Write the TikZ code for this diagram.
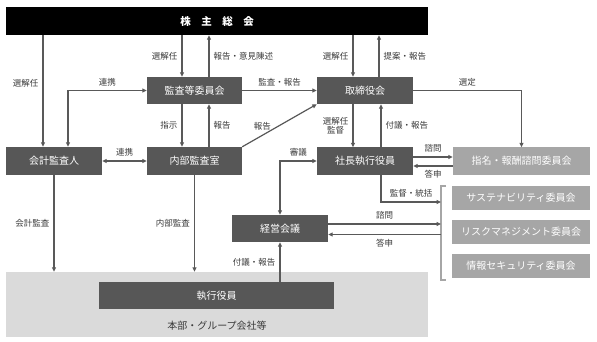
\documentclass[tikz,border=0pt]{standalone}
\usepackage{fontspec}
\setmainfont{Noto Sans CJK JP}
\usetikzlibrary{arrows.meta,positioning}

\definecolor{boxdark}{HTML}{575757}
\definecolor{boxlight}{HTML}{A6A6A6}
\definecolor{areagray}{HTML}{DADADA}
\definecolor{linegray}{HTML}{595959}
\definecolor{txtgray}{HTML}{3A3A3A}

\begin{document}
\begin{tikzpicture}[x=1pt, y=-1pt,
darkbox/.style={rectangle, fill=boxdark, text=white, minimum width=96pt, minimum height=27pt, inner sep=0pt, font=\fontsize{10}{12}\selectfont},
lightbox/.style={rectangle, fill=boxlight, text=white, minimum width=138pt, minimum height=24pt, inner sep=0pt, font=\fontsize{10}{12}\selectfont},
lbl/.style={font=\fontsize{8.5}{9.5}\selectfont, text=txtgray, inner sep=4pt, align=center},
arrow/.style={-{Triangle[length=4.5pt,width=4pt]}, line width=1.2pt, draw=linegray},
twoway/.style={{Triangle[length=4.5pt,width=4pt]}-{Triangle[length=4.5pt,width=4pt]}, line width=1.2pt, draw=linegray},
bracket/.style={line width=1.2pt, draw=boxlight}
]
\useasboundingbox (0,0) rectangle (597,342);

% Top bar
\node[rectangle, fill=black, text=white, minimum width=422pt, minimum height=28pt, font=\fontsize{10.5}{12}\selectfont\bfseries] (sh) at (217,21) {株\hspace{1em}主\hspace{1em}総\hspace{1em}会};

% Board and committees
\node[darkbox, minimum width=95pt] (kansa) at (194.5,90.5) {監査等委員会};
\node[darkbox] (tori) at (365,90.5) {取締役会};
\node[darkbox, minimum height=28pt] (kaikei) at (54,161) {会計監査人};
\node[darkbox, minimum width=95pt, minimum height=28pt] (naibu) at (194.5,161) {内部監査室};
\node[darkbox] (shacho) at (365,161) {社長執行役員};
\node[lightbox, minimum width=137pt, minimum height=27pt] (shimei) at (521.5,161) {指名・報酬諮問委員会};
\node[lightbox] (sus) at (521,198) {サステナビリティ委員会};
\node[lightbox] (risk) at (521,232) {リスクマネジメント委員会};
\node[lightbox] (joho) at (521,266) {情報セキュリティ委員会};
\node[darkbox] (keiei) at (280,228.5) {経営会議};

% Business units
\node[rectangle, fill=areagray, minimum width=422pt, minimum height=65pt] (area) at (217,304.5) {};
\node[darkbox, minimum width=235pt] (shikko) at (216.5,295.5) {執行役員};
\node[font=\fontsize{10}{12}\selectfont, text=txtgray] (areatxt) at (217,326) {本部・グループ会社等};

% Bracket
\coordinate (brtop) at (441,186);
\coordinate (brbot) at (441,280);
\coordinate (brsup) at (441,202);
\draw[bracket] ([xshift=5pt]brtop) -- (brtop) -- (brbot) -- ([xshift=5pt]brbot);

% Connections
\draw[arrow] ([xshift=-11pt]kaikei.north |- sh.south) -- node[lbl, left, pos=0.43] (l1) {選解任} ([xshift=-11pt]kaikei.north);
\draw[twoway] ([xshift=14pt]kaikei.north) |- node[lbl, above, pos=0.75] (l2) {連携} (kansa.west);

\draw[arrow] ([xshift=-12.5pt]kansa.north |- sh.south) -- node[lbl, left] (l3) {選解任} ([xshift=-12.5pt]kansa.north);
\draw[arrow] ([xshift=14.5pt]kansa.north) -- node[lbl, right] (l4) {報告・意見陳述} ([xshift=14.5pt]kansa.north |- sh.south);
\draw[arrow] ([xshift=-12pt]tori.north |- sh.south) -- node[lbl, left] (l5) {選解任} ([xshift=-12pt]tori.north);
\draw[arrow] ([xshift=14pt]tori.north) -- node[lbl, right] (l6) {提案・報告} ([xshift=14pt]tori.north |- sh.south);

\draw[arrow] (kansa.east) -- node[lbl, above] (l7) {監査・報告} (tori.west);
\draw[arrow] (tori.east) -| node[lbl, above, pos=0.25] (l8) {選定} (shimei.north);

\draw[arrow] ([xshift=-12.5pt]kansa.south) -- node[lbl, left] (l9) {指示} ([xshift=-12.5pt]naibu.north);
\draw[arrow] ([xshift=14.5pt]naibu.north) -- node[lbl, right] (l10) {報告} ([xshift=14.5pt]kansa.south);
\draw[arrow] (naibu.north east) -- node[lbl, above, pos=0.27] (l11) {報告} (tori.south west);

\draw[twoway] (kaikei.east) -- node[lbl, above] (l12) {連携} (naibu.west);
\draw[arrow] (kaikei.south) -- node[lbl, left] (l13) {会計監査} (kaikei.south |- area.north);
\draw[arrow] (naibu.south) -- node[lbl, left] (l14) {内部監査} (naibu.south |- area.north);

\draw[arrow] ([xshift=-12pt]tori.south) -- node[lbl, left] (l15) {選解任\\監督} ([xshift=-12pt]shacho.north);
\draw[arrow] ([xshift=16pt]shacho.north) -- node[lbl, right] (l16) {付議・報告} ([xshift=16pt]tori.south);

\draw[arrow] ([yshift=4pt]shacho.east) -- node[lbl, above] (l17) {諮問} ([yshift=4pt]shacho.east -| shimei.west);
\draw[arrow] ([yshift=-5pt]shimei.west) -- node[lbl, below] (l18) {答申} ([yshift=-5pt]shimei.west -| shacho.east);

\draw[arrow] ([xshift=16pt]shacho.south) |- node[lbl, above, pos=0.75] (l19) {監督・統括} (brsup);
\draw[arrow] ([yshift=4.5pt]keiei.east) -- node[lbl, above] (l20) {諮問} ([yshift=4.5pt]keiei.east -| brtop);
\draw[arrow] ([yshift=-6pt]keiei.east -| brtop) -- node[lbl, below] (l21) {答申} ([yshift=-6pt]keiei.east);

\draw[twoway] (shacho.west) -| node[lbl, above, pos=0.25] (l22) {審議} (keiei.north);
\draw[arrow] (keiei.south |- shikko.north) -- node[lbl, left] (l23) {付議・報告} (keiei.south);

\end{tikzpicture}
\end{document}
